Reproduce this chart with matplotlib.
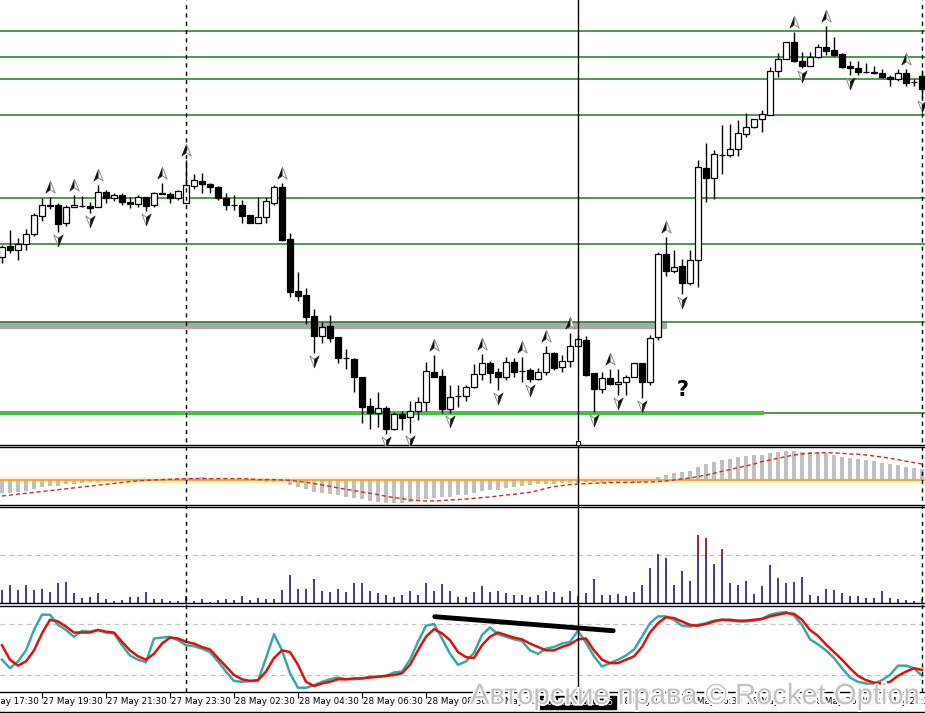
import numpy as np
import matplotlib
matplotlib.use("Agg")
import matplotlib.pyplot as plt
import matplotlib.patheffects as pe
from matplotlib.path import Path
from matplotlib.lines import Line2D
from matplotlib.patches import Rectangle
from matplotlib.transforms import blended_transform_factory

# 15 minute bars, 27 May 17:30 .. 28 May 23:45 (price in chart units)
opens = [188, 199, 195, 201, 211, 229, 239, 240, 222, 238,
         239, 239, 238, 253, 247, 250, 243, 241, 248, 240,
         251, 251, 247, 242, 259, 264, 261, 258, 247, 240,
         240, 230, 222, 228, 242, 258, 206, 154, 150, 129,
         109, 119, 108, 87, 86, 68, 39, 32, 37, 16,
         31, 28, 34, 43, 73, 69, 36, 49, 49, 58,
         71, 82, 73, 68, 83, 74, 75, 66, 73, 92,
         78, 84, 99, 105, 72, 56, 67, 61, 63, 68,
         82, 63, 108, 191, 174, 179, 162, 185, 277, 267,
         290, 290, 296, 311, 318, 326, 330, 374, 386, 403,
         384, 379, 388, 398, 395, 391, 379, 377, 373, 373,
         372, 368, 366, 372, 363, 369]
highs = [200, 215, 207, 216, 232, 247, 248, 242, 240, 250,
         249, 243, 260, 255, 252, 252, 248, 250, 248, 253,
         262, 253, 255, 285, 271, 272, 262, 259, 252, 250,
         245, 230, 248, 248, 260, 262, 212, 173, 157, 136,
         123, 130, 108, 96, 87, 68, 47, 53, 39, 33,
         34, 44, 48, 83, 90, 76, 60, 60, 60, 81,
         91, 84, 77, 88, 87, 88, 77, 77, 99, 93,
         90, 112, 110, 109, 72, 73, 76, 76, 70, 82,
         82, 110, 193, 208, 195, 186, 195, 285, 302, 295,
         320, 321, 325, 332, 326, 335, 378, 392, 403, 413,
         393, 393, 401, 419, 408, 392, 384, 384, 382, 379,
         376, 370, 376, 376, 366, 375]
lows = [182, 192, 185, 195, 209, 224, 236, 213, 219, 238,
        238, 232, 238, 242, 244, 240, 237, 238, 234, 238,
        251, 242, 245, 242, 256, 252, 252, 245, 235, 235,
        222, 222, 222, 222, 240, 204, 148, 144, 121, 92,
        102, 103, 82, 76, 53, 22, 16, 18, 11, 15,
        15, 12, 25, 34, 68, 32, 32, 38, 44, 57,
        65, 62, 55, 65, 68, 63, 63, 65, 70, 75,
        73, 78, 98, 69, 33, 52, 60, 50, 50, 68,
        47, 60, 105, 169, 172, 151, 160, 158, 243, 246,
        271, 288, 289, 308, 317, 313, 330, 368, 386, 383,
        377, 379, 387, 390, 389, 377, 370, 370, 372, 371,
        367, 359, 364, 359, 359, 347]
closes = [198, 195, 201, 211, 230, 240, 240, 221, 238, 240,
          239, 237, 253, 247, 250, 243, 241, 248, 239, 252,
          252, 247, 254, 260, 265, 261, 258, 247, 240, 240,
          229, 222, 228, 244, 258, 205, 153, 149, 128, 109,
          118, 107, 87, 87, 68, 38, 32, 37, 16, 31,
          27, 34, 43, 74, 68, 36, 48, 49, 58, 71,
          82, 72, 68, 83, 73, 74, 66, 73, 92, 77,
          84, 99, 106, 70, 56, 67, 61, 63, 68, 82,
          63, 107, 191, 174, 178, 162, 185, 278, 267, 291,
          290, 296, 312, 318, 326, 331, 374, 386, 403, 384,
          379, 388, 398, 394, 390, 378, 377, 373, 373, 372,
          368, 366, 372, 362, 363, 356]

# fractal bars
fractal_up = [6, 9, 12, 20, 23, 35, 54, 60, 65, 68, 71, 76, 83, 99, 103, 113]
fractal_down = [7, 11, 18, 39, 48, 51, 56, 62, 66, 74, 77, 80, 85, 100, 106, 115]

# horizontal levels drawn on the chart
green_levels = [413.7, 387.7, 365.7, 329.7, 247, 201, 122.7]
support_level = 32.3
support_end = 95
band_low, band_high, band_end = 117.5, 123.5, 83

# MACD (bars) and signal
macd = [-12.3, -13, -11.3, -10.3, -8.7, -6.7, -5.7, -5.3, -4, -3.3,
        -2.7, -2, -1.7, -1, -0.5, 0.7, 1, 1, 1, 1,
        1.3, 1.7, 2, 2.3, 2.7, 3, 2.7, 2.3, 2, 1.7,
        1.3, 1, -0.7, -1.3, -1.3, -1, -4.3, -6.3, -8.7, -11.3,
        -13, -13.7, -14.7, -16.3, -17.3, -19, -20.3, -21.3, -22.3, -22.3,
        -22.3, -21.3, -19.7, -19, -18, -17, -16.3, -14.7,
        -14.7, -12.3, -10.3, -9.7, -9.7, -7.3, -6.3, -5.7, -4.7, -4,
        -3.7, -3.3, -3, -2.3, -2.3, -2, -2, -2.7, -3, -3,
        -3, -2.3, -1.7, -1,
        3.3, 5.7, 7.7, 8.3, 9.3, 13.3, 16.3, 18.3, 20.3, 21.3,
        23.3, 24.7, 25.3, 25.3, 27.7, 28.3, 29.3, 29, 28.7, 28,
        28, 27, 25.3, 23, 22, 21, 20.3, 19.3, 17.3, 16.3,
        15.3, 13.7, 12.3, 11]
signal = [-15.7, -14.8, -13.9, -13, -12.1, -11.2, -10.3, -9.4, -8.5, -7.6,
          -6.7, -5.8, -4.9, -4, -3.1, -2.2, -1.3, -0.5, 0, 0.3,
          0.7, 1, 1.3, 1.5, 1.7, 1.7, 1.7, 1.7, 1.7, 1.7,
          1.7, 1.3, 0.7, 0.7, 0.7, 0.3, 0, -1, -2, -3.3,
          -4.7, -6, -7.7, -9, -10.3, -11.7, -13, -14.3, -16, -17.3,
          -18.3, -19.7, -20.3, -20.7, -20.7, -20.3, -19.7, -19.3,
          -18.7, -18, -17.3, -16.7, -15.7, -14.7, -14, -13, -12, -10.3,
          -8, -6.3, -5.3, -4.3, -3.7, -3.3, -3, -2.7, -2.3, -2.3,
          -2.3, -2, -1.7, -1.7, -1.3, -0.7, 0.3, 1.3, 2.3, 3.7,
          5.3, 7, 9, 10.7, 12.7, 14.3, 16.3, 18.7, 20.3, 22,
          23.7, 25.3, 26.3, 27, 27.3, 27.7, 27.3, 27, 26.3, 26,
          25.3, 24.3, 23.3, 22, 20.7, 19, 17.7, 16.3]

# tick volume
volume = [12.7, 17.7, 12.7, 17.7, 12.7, 13.7, 10.7, 20, 20.7, 9.7,
          4.7, 5.7, 9.7, 3.7, 1.7, 2.7, 5.7, 5.7, 10.7, 3.7,
          3.7, 1.3, 1.7, 6.7, 1.7, 3.7, 1, 2.7, 3.7, 2.7,
          6.7, 2.7, 4.7, 3.7, 3.7, 12.7, 27.7, 13.7, 13.7, 23.7,
          11.7, 10.7, 13.7, 10.7, 19.7, 19.7, 11.7, 9.7, 7.7, 5.7,
          7.7, 11.7, 7.7, 19.7, 11.7, 19, 11.7, 5.7,
          5.7, 10.7, 16.7, 10.7, 11.7, 9.7, 7.7, 7.7, 5.7, 7.7,
          11.7, 10.7, 5.7, 11.7, 6.7, 9.7, 23.7, 7.7, 7.7, 8.7,
          6.7, 10.7, 17.7, 34.7, 48.7, 44.7, 17.7, 31.7, 21.7, 67.7,
          64.7, 38.7, 53.7, 19.7, 17.7, 21.7, 8.7, 16.7, 37.7, 24.7,
          19.7, 20.7, 25.7, 7.7, 6.7, 13.7, 12.7, 9.7, 6.7, 6.7,
          4.7, 4.7, 11.7, 4.7, 3.7, 2.7, 1.7, 3.7]
volume_level = 47.7

# stochastic %K / %D
stoch_k = [38, 28, 36, 49, 73, 91, 91, 79, 73, 65,
           72, 71, 73, 70, 69, 55, 43, 38, 35, 63,
           64, 65, 61, 55, 54, 51, 47, 36, 24, 13,
           12, 13, 13, 40, 68, 49, 22, 5, 5, 8,
           12, 15, 17, 15, 15, 16, 18, 18, 19, 23,
           24, 38, 59, 78, 80, 63, 45, 32,
           36, 46, 67, 76, 68, 65, 62, 60, 49, 45,
           51, 53, 57, 59, 72, 58, 42, 30, 34, 38,
           43, 50, 65, 81, 89, 89, 85, 78, 77, 79,
           81, 84, 85, 84, 83, 83, 84, 86, 91, 93,
           94, 90, 79, 62, 56, 49, 40, 28, 17, 12,
           10, 10, 14, 20, 31, 31, 28, 19]
stoch_d = [55, 38, 31, 36, 49, 69, 85, 83, 77, 70,
           70, 70, 73, 71, 70, 59, 49, 42, 38, 45,
           57, 64, 63, 59, 57, 53, 50, 40, 30, 20,
           15, 13, 14, 24, 40, 49, 47, 32, 12, 7,
           10, 12, 15, 15, 16, 16, 17, 18, 19, 20,
           22, 32, 49, 65, 74, 69, 61, 47,
           41, 40, 55, 65, 70, 67, 64, 62, 57, 53,
           49, 49, 53, 56, 62, 63, 49, 38, 34, 34,
           38, 42, 53, 70, 81, 88, 87, 83, 79, 78,
           80, 83, 85, 85, 84, 84, 85, 86, 89, 91,
           93, 92, 85, 73, 66, 56, 47, 38, 28, 19,
           14, 11, 10, 12, 19, 24, 28, 26]
trend_x = [54.1, 76.4]
trend_y = [88.6, 72.1]

time_idx = [-3, 5, 13, 21, 29, 37, 45, 53, 61, 69, 77, 85, 93, 101, 109]
time_labels = ['27 May 17:30', '27 May 19:30', '27 May 21:30', '27 May 23:30',
               '28 May 02:30', '28 May 04:30', '28 May 06:30', '28 May 08:30',
               '28 May 10:30', '28 May 12:30', '28 May 14:30', '28 May 16:30',
               '28 May 18:30', '28 May 20:30', '28 May 22:30']
day_separators = [23, 115]
cursor_idx = 72
cursor_label = '2025.05.28 12:15'

W, H = 925, 713
XMIN, XMAX = -0.25, 115.375
fig = plt.figure(figsize=(W / 100, H / 100), dpi=100)


def panel(top, bottom):
    a = fig.add_axes([0, 1 - bottom / H, 1, (bottom - top) / H])
    a.set_xticks([])
    a.set_yticks([])
    a.set_xlim(XMIN, XMAX)
    a.spines['left'].set_visible(False)
    a.spines['right'].set_visible(False)
    a.spines['top'].set_linewidth(1)
    a.spines['bottom'].set_linewidth(1)
    return a


ax = panel(0, 445.3)
ax_macd = panel(447.3, 505.3)
ax_vol = panel(507.3, 603.3)
ax_sto = panel(605.5, 692)
ax.spines['top'].set_visible(False)

x = np.arange(len(opens))
o, h, l, c = map(np.array, (opens, highs, lows, closes))

# levels
ax.add_patch(Rectangle((XMIN, band_low), band_end - XMIN, band_high - band_low,
                       color='#a9a9a9', zorder=1))
for lv in green_levels:
    ax.axhline(lv, color='#1e7d1e', lw=1.1, zorder=1.5)
ax.axhline(support_level, color='#1e7d1e', lw=1.1, zorder=1.5)
ax.plot([XMIN, support_end], [support_level, support_level], color='#48c048', lw=3, zorder=1.6)

# candles
ax.vlines(x, l, h, color='black', lw=1, zorder=3)
ax.bar(x, np.abs(c - o), bottom=np.minimum(o, c), width=0.64,
       color=np.where(c > o, 'white', 'black'), edgecolor='black', linewidth=0.9, zorder=4)

# fractal arrows
up_left = Path([(0, 1), (-0.75, -0.9), (0, -0.35), (0, 1)],
               [Path.MOVETO, Path.LINETO, Path.LINETO, Path.CLOSEPOLY])
up_right = Path([(0, 1), (0, -0.35), (0.75, -0.9), (0, 1)],
                [Path.MOVETO, Path.LINETO, Path.LINETO, Path.CLOSEPOLY])
dn_left = Path(up_left.vertices * [1, -1], up_left.codes)
dn_right = Path(up_right.vertices * [1, -1], up_right.codes)

fu = np.array(fractal_up)
fd = np.array(fractal_down)
ax.plot(fu, h[fu] + 10, ls='none', marker=up_left, ms=9, mfc='#111111', mec='#111111', mew=0.4, zorder=5)
ax.plot(fu, h[fu] + 10, ls='none', marker=up_right, ms=9, mfc='white', mec='#8a8a8a', mew=0.7, zorder=5)
ax.plot(fd, l[fd] - 8, ls='none', marker=dn_left, ms=9, mfc='white', mec='#8a8a8a', mew=0.7, zorder=5)
ax.plot(fd, l[fd] - 8, ls='none', marker=dn_right, ms=9, mfc='#111111', mec='#111111', mew=0.4, zorder=5)

ax.text(85.1, 55, '?', fontsize=15, fontweight='bold', ha='center', va='center', zorder=6)
ax.set_ylim(-0.3, 445)

# MACD
ax_macd.axhline(0, color='#fff2c0', lw=4, zorder=1)
ax_macd.bar(x, macd, width=0.55, color='#c0c0c0', zorder=2)
ax_macd.axhline(0, color='#f0a030', lw=1.2, zorder=3)
ax_macd.plot(x, signal, color='#c8302a', lw=1, ls=(0, (3, 2)), zorder=4)
ax_macd.set_ylim(-25, 33)

# volume
vol = np.array(volume)
ax_vol.bar(x, np.minimum(vol, volume_level), width=0.34, color='#463f8c', zorder=2)
over = vol > volume_level
ax_vol.bar(x[over], vol[over] - volume_level, bottom=volume_level, width=0.34,
           color='#a32a2a', zorder=2)
ax_vol.axhline(volume_level, color='#9fdc9f', lw=0.9, ls=(0, (4, 3)), zorder=1)
ax_vol.set_ylim(-0.6, 95.4)

# stochastic
ax_sto.axhline(80, color='#c4c4c4', lw=0.9, ls=(0, (4, 3)), zorder=1)
ax_sto.axhline(20, color='#c4c4c4', lw=0.9, ls=(0, (4, 3)), zorder=1)
ax_sto.plot(x, stoch_k, color='#3aa9a5', lw=1.8, zorder=2)
ax_sto.plot(x, stoch_d, color='#e01010', lw=1.8, zorder=3)
ax_sto.plot(trend_x, trend_y, color='black', lw=3.5, solid_capstyle='round', zorder=4)
ax_sto.set_ylim(0, 101.8)

# time axis (set ticks first, then restore the view)
ax_sto.set_xticks(time_idx)
ax_sto.tick_params(axis='x', direction='out', length=4, width=0.8, labelbottom=False)
ax_sto.set_xlim(XMIN, XMAX)
lab_tr = blended_transform_factory(ax_sto.transData, ax_sto.transAxes)
for i, t in zip(time_idx, time_labels):
    ax_sto.text(i + 0.15, -0.105, t, transform=lab_tr, ha='left', va='center',
                fontsize=6.3, clip_on=False)

# separators, cursor
tr = blended_transform_factory(ax.transData, fig.transFigure)
for i in day_separators:
    fig.add_artist(Line2D([i, i], [1 - 692 / H, 1], transform=tr, color='black',
                          lw=1, ls=(0, (3, 3))))
fig.add_artist(Line2D([cursor_idx, cursor_idx], [1 - 697 / H, 1], transform=tr,
                      color='black', lw=1))
fig.add_artist(Line2D([cursor_idx], [1 - 443 / H], transform=tr, marker='s', ms=3.5,
                      mfc='white', mec='black', mew=0.8))
fig.text(cursor_idx, 1 - 702.5 / H, cursor_label, transform=tr, ha='center', va='center',
         color='white', fontsize=5.8, zorder=8,
         bbox=dict(boxstyle='square,pad=0.3', fc='black', ec='black'))
fig.add_artist(Line2D([0, 1], [1 - 712 / H, 1 - 712 / H], color='black', lw=1))

fig.text(470 / W, 1 - 696 / H, 'Авторские права © Rocket Option', ha='left', va='center',
         fontsize=21, color='#c2c2c2', family='Liberation Sans', zorder=10,
         path_effects=[pe.withStroke(linewidth=2.5, foreground='white')])

fig.savefig('out.png', dpi=100)
